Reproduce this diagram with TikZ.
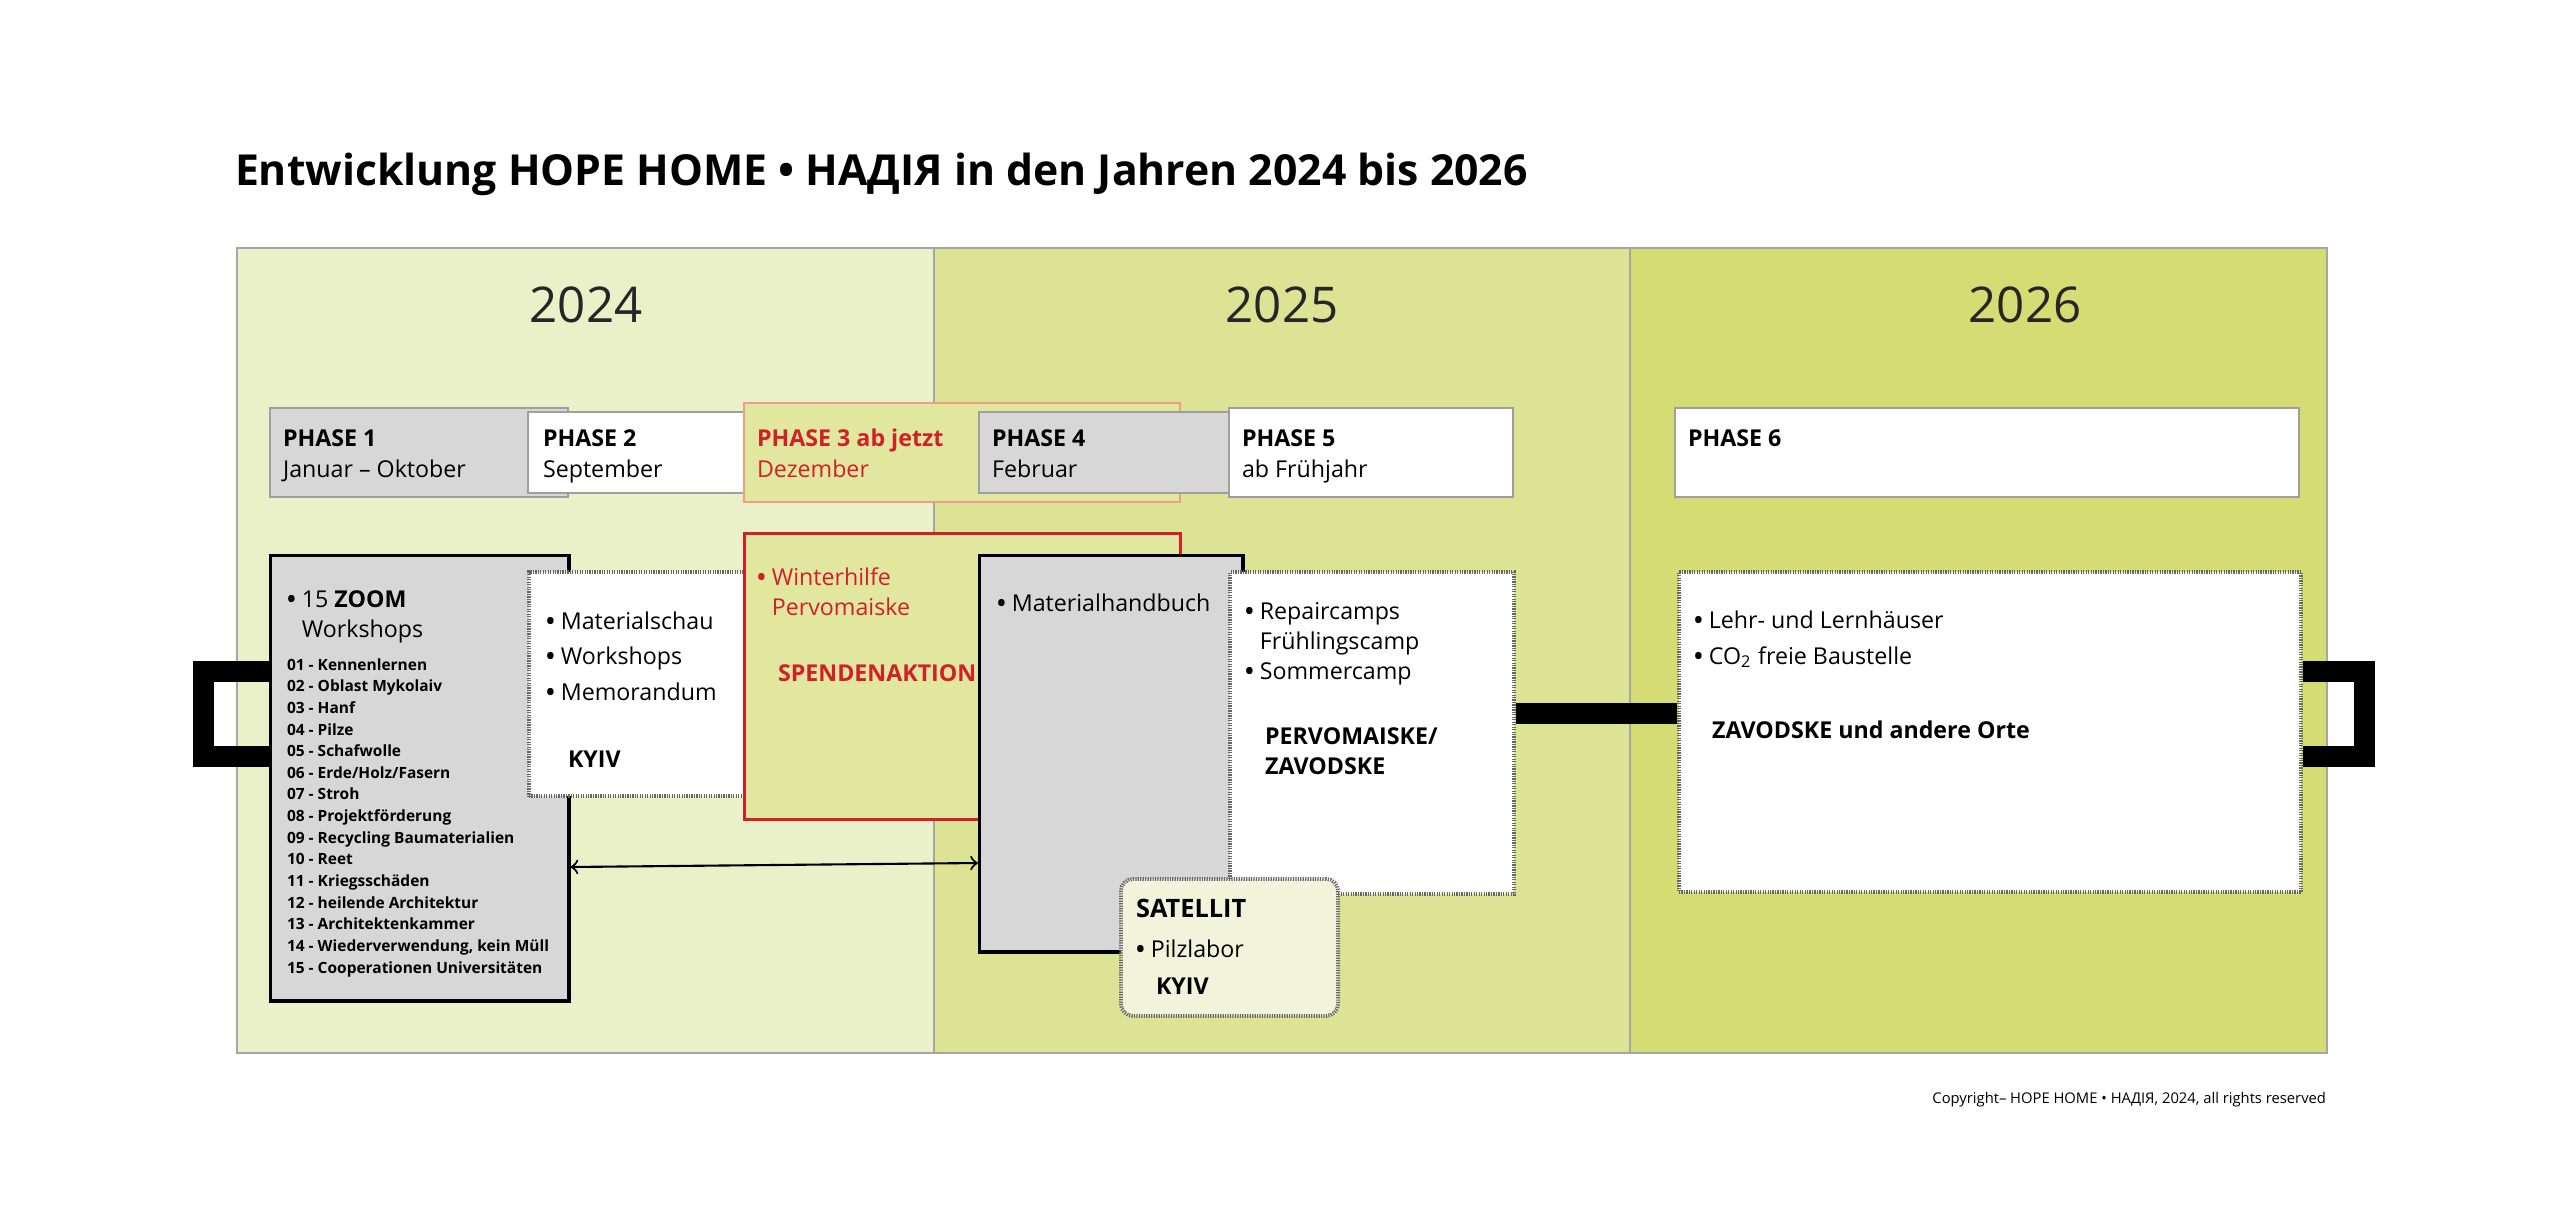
\documentclass[tikz,border=0pt]{standalone}
\usepackage{fontspec}
\setmainfont{Open Sans}
\usetikzlibrary{positioning}

\definecolor{yearA}{HTML}{EAF0C8}
\definecolor{yearB}{HTML}{DDE395}
\definecolor{yearC}{HTML}{D4DC73}
\definecolor{boxGray}{HTML}{D7D7D7}
\definecolor{phaseGreen}{HTML}{E1E79E}
\definecolor{hopeRed}{HTML}{D1202A}
\definecolor{salmon}{HTML}{EE9E86}
\definecolor{satFill}{HTML}{F1F4DA}

\newcommand{\hopeBullet}{\textbf{•}}

\tikzset{
  phase/.style={draw=gray!75, line width=0.45pt, anchor=north west, inner sep=0pt},
  solidBox/.style={draw=black, line width=0.95pt, fill=boxGray, anchor=north west, inner sep=0pt},
  dotBox/.style={draw=black!60, line width=1.1pt, dash pattern=on 0.35pt off 0.35pt, fill=white, anchor=north west, inner sep=0pt},
  txt/.style={anchor=base west, inner sep=0pt, align=left, font=\fontsize{6.6}{8.8}\selectfont},
  bar/.style={line width=0.21cm, line join=miter, line cap=butt},
}

\begin{document}
\begin{tikzpicture}[x=0.01cm, y=-0.01cm, semithick]
  \useasboundingbox (0,0) rectangle (2560,1227);

  \node[anchor=base west, inner sep=0pt, font=\fontsize{12.15}{14}\selectfont\bfseries] (title) at (234,185)
    {Entwicklung HOPE HOME • НАДІЯ in den Jahren 2024 bis 2026};

  % year columns
  \filldraw[fill=yearA, draw=gray!70, line width=0.35pt] (237,248) rectangle (934,1053);
  \filldraw[fill=yearB, draw=gray!70, line width=0.35pt] (934,248) rectangle (1630,1053);
  \filldraw[fill=yearC, draw=gray!70, line width=0.35pt] (1630,248) rectangle (2327,1053);
  \node[anchor=base, font=\fontsize{14}{16}\selectfont, text=black!85] (yearOne) at (586,322) {2024};
  \node[anchor=base, font=\fontsize{14}{16}\selectfont, text=black!85] (yearTwo) at (1282,322) {2025};
  \node[anchor=base, font=\fontsize{14}{16}\selectfont, text=black!85] (yearThree) at (2025,322) {2026};

  % phases
  \node[phase, fill=boxGray, minimum width=2.98cm, minimum height=0.89cm] (phaseOne) at (269,407) {};
  \node[phase, fill=white, minimum width=2.19cm, minimum height=0.81cm] (phaseTwo) at (527,411) {};
  \node[phase, fill=phaseGreen, draw=salmon, minimum width=4.36cm, minimum height=0.99cm] (phaseThree) at (743,402) {};
  \node[phase, fill=boxGray, minimum width=2.50cm, minimum height=0.81cm] (phaseFour) at (978,411) {};
  \node[phase, fill=white, minimum width=2.84cm, minimum height=0.89cm] (phaseFive) at (1228,407) {};
  \node[phase, fill=white, minimum width=6.24cm, minimum height=0.89cm] (phaseSix) at (1674,407) {};

  % base of a two line text = its last line
  \node[txt] (phaseOneText) at (282,477) {\textbf{PHASE 1}\\Januar – Oktober};
  \node[txt] (phaseTwoText) at (542,477) {\textbf{PHASE 2}\\September};
  \node[txt, text=hopeRed] (phaseThreeText) at (756,477) {\textbf{PHASE 3 ab jetzt}\\Dezember};
  \node[txt] (phaseFourText) at (991,477) {\textbf{PHASE 4}\\Februar};
  \node[txt] (phaseFiveText) at (1241,477) {\textbf{PHASE 5}\\ab Frühjahr};
  \node[txt] (phaseSixText) at (1687,446) {\textbf{PHASE 6}};

  % handles and links
  \coordinate (hookTop) at (0,671.5);
  \coordinate (hookBottom) at (0,756.5);
  \coordinate (midLevel) at (0,713);

  \node[solidBox, minimum width=2.98cm, minimum height=4.45cm] (zoomBox) at (269,554) {};
  \node[dotBox, minimum width=2.19cm, minimum height=2.24cm] (kyivBox) at (527,570) {};
  \node[phase, fill=phaseGreen, draw=hopeRed, line width=0.8pt, minimum width=4.36cm, minimum height=2.86cm] (spendeBox) at (743,532) {};
  \node[solidBox, minimum width=2.63cm, minimum height=3.96cm] (handbuchBox) at (978,554) {};
  \node[dotBox, minimum width=2.84cm, minimum height=3.22cm] (campBox) at (1228,570) {};
  \node[dotBox, minimum width=6.22cm, minimum height=3.20cm] (ortBox) at (1677,570) {};
  \node[dotBox, fill=satFill, rounded corners=0.12cm, minimum width=2.17cm, minimum height=1.37cm] (satBox) at (1119,877) {};

  \draw[bar] (zoomBox.west |- hookTop) -- ++(-65.5,0) |- (zoomBox.west |- hookBottom);
  \draw[bar] (ortBox.east |- hookTop) -- ++(61,0) |- (ortBox.east |- hookBottom);
  \draw[bar] (campBox.east |- midLevel) -- (ortBox.west |- midLevel);
  \draw[<->] (zoomBox.east |- 0,867) -- (handbuchBox.west |- 0,863);

  % box texts
  \node[txt, font=\fontsize{6.6}{8.5}\selectfont] (zoomHead) at (286,637) {\hopeBullet{} 15 \textbf{ZOOM}\\\phantom{\hopeBullet{} }Workshops};
  \node[txt, font=\fontsize{4.4}{6.15}\selectfont\bfseries] (zoomList) at (286,973) {%
    01 - Kennenlernen\\02 - Oblast Mykolaiv\\03 - Hanf\\04 - Pilze\\05 - Schafwolle\\%
    06 - Erde/Holz/Fasern\\07 - Stroh\\08 - Projektförderung\\09 - Recycling Baumaterialien\\%
    10 - Reet\\11 - Kriegsschäden\\12 - heilende Architektur\\13 - Architektenkammer\\%
    14 - Wiederverwendung, kein Müll\\15 - Cooperationen Universitäten};

  \node[txt, font=\fontsize{6.6}{10}\selectfont] (kyivList) at (545,700) {\hopeBullet{} Materialschau\\\hopeBullet{} Workshops\\\hopeBullet{} Memorandum};
  \node[txt, font=\fontsize{6.6}{8}\selectfont\bfseries] (kyivLabel) at (567,767) {KYIV};

  \node[txt, text=hopeRed, font=\fontsize{6.6}{8.25}\selectfont] (spendeList) at (756,615) {\hopeBullet{} Winterhilfe\\\phantom{\hopeBullet{} }Pervomaiske};
  \node[txt, text=hopeRed, font=\fontsize{6.6}{8}\selectfont\bfseries] (spendeLabel) at (777,681) {SPENDENAKTION};

  \node[txt] (handbuchList) at (996,611) {\hopeBullet{} Materialhandbuch};

  \node[txt, font=\fontsize{6.6}{8.4}\selectfont] (campList) at (1244,679) {\hopeBullet{} Repaircamps\\\phantom{\hopeBullet{} }Frühlingscamp\\\hopeBullet{} Sommercamp};
  \node[txt, font=\fontsize{6.6}{8.5}\selectfont\bfseries] (campLabel) at (1264,774) {PERVOMAISKE/\\ZAVODSKE};

  \node[txt, font=\fontsize{6.6}{10.2}\selectfont] (ortList) at (1693,664) {\hopeBullet{} Lehr- und Lernhäuser\\\hopeBullet{} CO\textsubscript{2} freie Baustelle};
  \node[txt, font=\fontsize{6.6}{8}\selectfont\bfseries] (ortLabel) at (1711,738) {ZAVODSKE und andere Orte};

  \node[txt, font=\fontsize{7.2}{8}\selectfont\bfseries] (satTitle) at (1135,917) {SATELLIT};
  \node[txt] (satList) at (1135,957) {\hopeBullet{} Pilzlabor};
  \node[txt, font=\fontsize{6.6}{8}\selectfont\bfseries] (satLabel) at (1155,994) {KYIV};

  \node[anchor=base east, inner sep=0pt, font=\fontsize{4.2}{5}\selectfont] (copyright) at (2327,1103)
    {Copyright– HOPE HOME • НАДІЯ, 2024, all rights reserved};
\end{tikzpicture}
\end{document}
